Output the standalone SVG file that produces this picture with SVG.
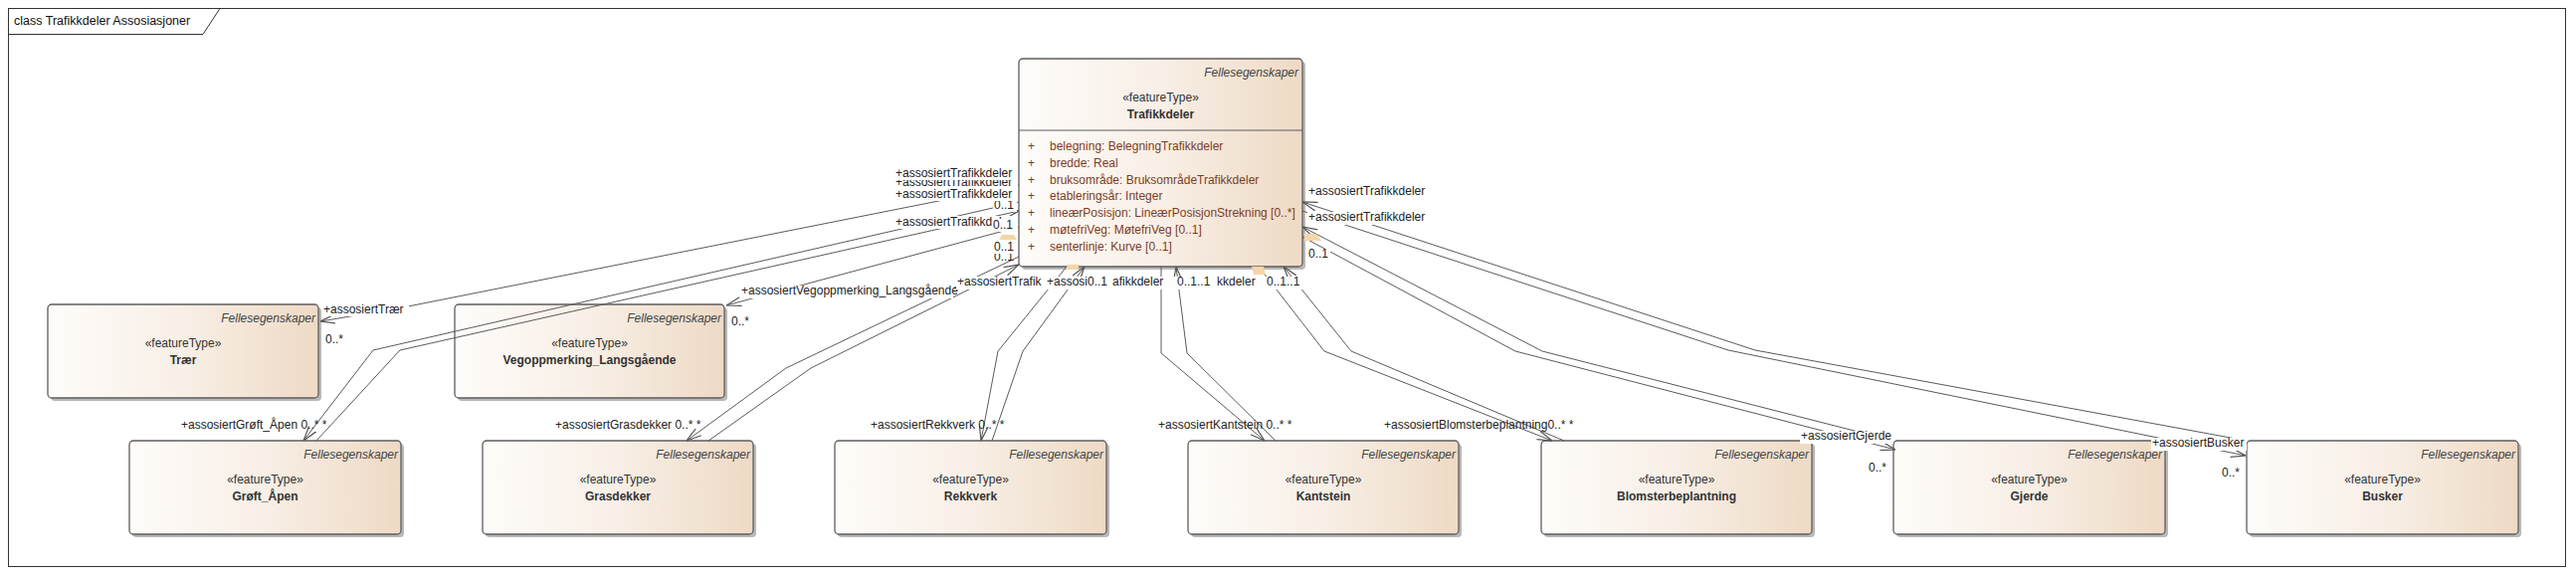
<svg xmlns="http://www.w3.org/2000/svg" width="2589" height="581" viewBox="0 0 2589 581">
<defs>
<linearGradient id="g" x1="0" y1="0" x2="1" y2="0">
<stop offset="0" stop-color="#fefcfa"/>
<stop offset="0.5" stop-color="#f8efe6"/>
<stop offset="1" stop-color="#eedac5"/>
</linearGradient>
<marker id="a" viewBox="0 0 15 10" refX="15" refY="5" markerWidth="15" markerHeight="10" markerUnits="userSpaceOnUse" orient="auto">
<path d="M0,0.5 L15,5 L0,9.5" fill="none" stroke="#555" stroke-width="1.2"/>
</marker>
<style>
.sh{fill:#b8b8b8}
.box{fill:url(#g);stroke:#5e5e5e;stroke-width:1.3}
.sep{stroke:#5e5e5e;stroke-width:1}
.t{font-family:"Liberation Sans",Arial,sans-serif;font-size:12px;fill:#333}
.it{font-style:italic;fill:#444}
.b{font-weight:bold}
.m{text-anchor:middle}
.e{text-anchor:end}
.at{fill:#7d3c1f}
.ln{fill:none;stroke:#5a5a5a;stroke-width:1}
.ar{marker-end:url(#a)}
.bg{fill:#fff}
.l{font-family:"Liberation Sans",Arial,sans-serif;font-size:12px;fill:#222}
.tan{fill:#f3d6a8}
</style>
</defs>
<rect x="0" y="0" width="2589" height="581" fill="#fff"/>
<g id="frame">
<rect x="8.5" y="8.5" width="2570" height="561" fill="none" stroke="#333" stroke-width="1"/>
<path d="M8.5,34.5 H204 L221,8.5" fill="none" stroke="#333" stroke-width="1"/>
<text x="14" y="25" style="font-family:'Liberation Sans',Arial,sans-serif;font-size:12.5px;fill:#111">class Trafikkdeler Assosiasjoner</text>
</g>

<g id="trafikkdeler">
<rect class="sh" x="1027" y="62" width="285" height="209" rx="4"/>
<rect class="box" x="1024" y="59" width="285" height="209" rx="4"/>
<line class="sep" x1="1024" y1="131" x2="1309" y2="131"/>
<text class="t it e" x="1305" y="77">Fellesegenskaper</text>
<text class="t m" x="1166.5" y="102">«featureType»</text>
<text class="t b m" x="1166.5" y="119">Trafikkdeler</text>
<g class="t at">
<text x="1033" y="151">+</text><text x="1055" y="151">belegning: BelegningTrafikkdeler</text>
<text x="1033" y="168">+</text><text x="1055" y="168">bredde: Real</text>
<text x="1033" y="185">+</text><text x="1055" y="185">bruksområde: BruksområdeTrafikkdeler</text>
<text x="1033" y="201">+</text><text x="1055" y="201">etableringsår: Integer</text>
<text x="1033" y="218">+</text><text x="1055" y="218">lineærPosisjon: LineærPosisjonStrekning [0..*]</text>
<text x="1033" y="235">+</text><text x="1055" y="235">møtefriVeg: MøtefriVeg [0..1]</text>
<text x="1033" y="252">+</text><text x="1055" y="252">senterlinje: Kurve [0..1]</text>
</g>
</g>

<g id="traer">
<rect class="sh" x="51" y="309" width="272" height="94" rx="4"/>
<rect class="box" x="48" y="306" width="272" height="94" rx="4"/>
<text class="t it e" x="317" y="324">Fellesegenskaper</text>
<text class="t m" x="184" y="349">«featureType»</text>
<text class="t b m" x="184" y="366">Trær</text>
</g>

<g id="vegoppmerking">
<rect class="sh" x="460" y="309" width="271" height="94" rx="4"/>
<rect class="box" x="457" y="306" width="271" height="94" rx="4"/>
<text class="t it e" x="725" y="324">Fellesegenskaper</text>
<text class="t m" x="592.5" y="349">«featureType»</text>
<text class="t b m" x="592.5" y="366">Vegoppmerking_Langsgående</text>
</g>

<g id="groft">
<rect class="sh" x="133" y="446" width="273" height="94" rx="4"/>
<rect class="box" x="130" y="443" width="273" height="94" rx="4"/>
<text class="t it e" x="400" y="461">Fellesegenskaper</text>
<text class="t m" x="266.5" y="486">«featureType»</text>
<text class="t b m" x="266.5" y="503">Grøft_Åpen</text>
</g>

<g id="grasdekker">
<rect class="sh" x="488" y="446" width="272" height="94" rx="4"/>
<rect class="box" x="485" y="443" width="272" height="94" rx="4"/>
<text class="t it e" x="754" y="461">Fellesegenskaper</text>
<text class="t m" x="621" y="486">«featureType»</text>
<text class="t b m" x="621" y="503">Grasdekker</text>
</g>

<g id="rekkverk">
<rect class="sh" x="842" y="446" width="273" height="94" rx="4"/>
<rect class="box" x="839" y="443" width="273" height="94" rx="4"/>
<text class="t it e" x="1109" y="461">Fellesegenskaper</text>
<text class="t m" x="975.5" y="486">«featureType»</text>
<text class="t b m" x="975.5" y="503">Rekkverk</text>
</g>

<g id="kantstein">
<rect class="sh" x="1197" y="446" width="272" height="94" rx="4"/>
<rect class="box" x="1194" y="443" width="272" height="94" rx="4"/>
<text class="t it e" x="1463" y="461">Fellesegenskaper</text>
<text class="t m" x="1330" y="486">«featureType»</text>
<text class="t b m" x="1330" y="503">Kantstein</text>
</g>

<g id="blomsterbeplantning">
<rect class="sh" x="1552" y="446" width="272" height="94" rx="4"/>
<rect class="box" x="1549" y="443" width="272" height="94" rx="4"/>
<text class="t it e" x="1818" y="461">Fellesegenskaper</text>
<text class="t m" x="1685" y="486">«featureType»</text>
<text class="t b m" x="1685" y="503">Blomsterbeplantning</text>
</g>

<g id="gjerde">
<rect class="sh" x="1906" y="446" width="273" height="94" rx="4"/>
<rect class="box" x="1903" y="443" width="273" height="94" rx="4"/>
<text class="t it e" x="2173" y="461">Fellesegenskaper</text>
<text class="t m" x="2039.5" y="486">«featureType»</text>
<text class="t b m" x="2039.5" y="503">Gjerde</text>
</g>

<g id="busker">
<rect class="sh" x="2261" y="446" width="273" height="94" rx="4"/>
<rect class="box" x="2258" y="443" width="273" height="94" rx="4"/>
<text class="t it e" x="2528" y="461">Fellesegenskaper</text>
<text class="t m" x="2394.5" y="486">«featureType»</text>
<text class="t b m" x="2394.5" y="503">Busker</text>
</g>

<g id="connectors">
<polyline class="ln ar" points="1024,186 400,310 322,323"/>
<polyline class="ln ar" points="1024,203 375,352 305,443"/>
<polyline class="ln ar" points="318,443 402,352 1024,212"/>
<polyline class="ln ar" points="1024,228 730,307"/>
<polyline class="ln ar" points="1024,258 790,370 690,443"/>
<polyline class="ln ar" points="712,443 815,370 1024,266"/>
<polyline class="ln ar" points="1072,268 1003,353 986,443"/>
<polyline class="ln ar" points="997,443 1028,353 1090,268"/>
<polyline class="ln ar" points="1167,268 1167,355 1271,443"/>
<polyline class="ln ar" points="1282,443 1193,355 1182,268"/>
<polyline class="ln ar" points="1265,268 1331,353 1560,443"/>
<polyline class="ln ar" points="1572,443 1358,353 1290,268"/>
<polyline class="ln ar" points="1309,238 1523,353 1905,452"/>
<polyline class="ln ar" points="1903,443 1550,353 1309,228"/>
<polyline class="ln ar" points="1309,212 1737,352 2257,458"/>
<polyline class="ln ar" points="2258,443 1764,352 1309,203"/>

<polygon class="tan" points="1007,236 1019,236 1022,241 1004,241"/>
<polygon class="tan" points="1311,235 1323,235 1328,242 1311,242"/>
<polygon class="tan" points="1073,266 1085,266 1083,271 1071,271"/>
<polygon class="tan" points="1258,268 1270,268 1272,276 1260,276"/>

<rect class="bg" x="324" y="305" width="87" height="13"/>
<text class="l" x="325" y="315">+assosiertTrær</text>
<text class="l" x="327" y="345">0..*</text>

<rect class="bg" x="744" y="287" width="214" height="13"/>
<text class="l" x="745" y="296">+assosiertVegoppmerking_Langsgående</text>
<text class="l" x="735" y="327">0..*</text>

<rect class="bg" x="899" y="178" width="124" height="13"/>
<text class="l" x="900" y="187">+assosiertTrafikkdeler</text>
<rect class="bg" x="899" y="168" width="124" height="13"/>
<text class="l" x="900" y="178">+assosiertTrafikkdeler</text>
<rect class="bg" x="998" y="201" width="24" height="12"/>
<text class="l" x="999" y="210">0..1</text>
<rect class="bg" x="899" y="189" width="124" height="13"/>
<text class="l" x="900" y="199">+assosiertTrafikkdeler</text>
<rect class="bg" x="899" y="217" width="124" height="13"/>
<text class="l" x="900" y="227">+assosiertTrafikkdeler</text>
<rect class="bg" x="997" y="220" width="25" height="13"/>
<text class="l" x="998" y="230">0..1</text>
<text class="l" x="999" y="262">0..1</text>
<rect class="bg" x="998" y="242" width="23" height="13"/>
<text class="l" x="999" y="252">0..1</text>

<rect class="bg" x="961" y="278" width="351" height="13"/>
<text class="l" x="962" y="287">+assosiertTrafik</text>
<text class="l" x="1052" y="287">+assosi</text>
<text class="l" x="1093" y="287">0..1</text>
<text class="l" x="1118" y="287">afikkdeler</text>
<text class="l" x="1183" y="287">0..1..1</text>
<text class="l" x="1223" y="287">kkdeler</text>
<text class="l" x="1273" y="287">0..1..1</text>

<rect class="bg" x="1314" y="187" width="124" height="13"/>
<text class="l" x="1315" y="196">+assosiertTrafikkdeler</text>
<rect class="bg" x="1314" y="213" width="124" height="13"/>
<text class="l" x="1315" y="222">+assosiertTrafikkdeler</text>
<rect class="bg" x="1314" y="250" width="23" height="12"/>
<text class="l" x="1315" y="259">0..1</text>

<text class="l" x="182" y="431">+assosiertGrøft_Åpen 0..* *</text>
<text class="l" x="558" y="431">+assosiertGrasdekker 0..* *</text>
<text class="l" x="875" y="431">+assosiertRekkverk 0..* *</text>
<text class="l" x="1164" y="431">+assosiertKantstein 0..* *</text>
<text class="l" x="1391" y="431">+assosiertBlomsterbeplantning0..* *</text>

<rect class="bg" x="1809" y="433" width="94" height="13"/>
<text class="l" x="1810" y="442">+assosiertGjerde</text>
<text class="l" x="1878" y="474">0..*</text>
<rect class="bg" x="2162" y="440" width="96" height="13"/>
<text class="l" x="2163" y="449">+assosiertBusker</text>
<text class="l" x="2233" y="479">0..*</text>
</g>
</svg>
